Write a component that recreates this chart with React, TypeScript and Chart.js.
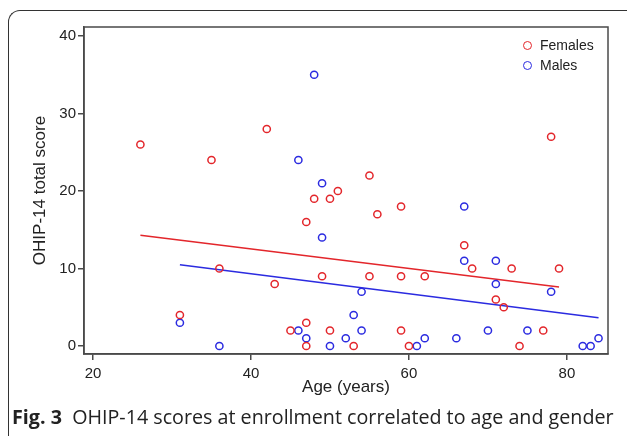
import React, { useEffect, useRef } from "react";
import { Chart, registerables } from "chart.js";

Chart.register(...registerables);

// ---- data ----
const seriesNames = ["Females", "Males"];
const seriesColors = ["#e3262b", "#2b2be0"];

const femaleAge = [26, 35, 42, 31, 36, 43, 45, 47, 47, 47, 48, 50, 51, 49, 50, 53, 55, 56, 55, 59, 59, 59, 60, 62, 67, 68, 71, 72, 73, 74, 77, 78, 79];
const femaleScore = [26, 24, 28, 4, 10, 8, 2, 3, 0, 16, 19, 19, 20, 9, 2, 0, 22, 17, 9, 18, 9, 2, 0, 9, 13, 10, 6, 5, 10, 0, 2, 27, 10];

const maleAge = [31, 36, 46, 48, 49, 49, 54, 53, 46, 54, 47, 52, 50, 61, 62, 66, 67, 67, 71, 71, 78, 70, 75, 82, 83, 84];
const maleScore = [3, 0, 24, 35, 21, 14, 7, 4, 2, 2, 1, 1, 0, 0, 1, 1, 18, 11, 11, 8, 7, 2, 2, 0, 0, 1];

// fitted regression lines (end points)
const femaleFitAge = [26, 79];
const femaleFitScore = [14.3, 7.6];
const maleFitAge = [31, 84];
const maleFitScore = [10.5, 3.65];

const xTicks = [20, 40, 60, 80];
const yTicks = [0, 10, 20, 30, 40];
const xRange = [18.86, 85.2];
const yRange = [-1.03, 41.16];

const xTitle = "Age (years)";
const yTitle = "OHIP-14 total score";
const captionBold = "Fig. 3";
const captionText = "OHIP-14 scores at enrollment correlated to age and gender";

const zip = (xs: number[], ys: number[]) => xs.map((x, i) => ({ x, y: ys[i] }));

const frameColor = "#4a4a4a";

const framePlugin = {
  id: "frame",
  afterDraw(chart: any) {
    const { ctx, chartArea } = chart;
    ctx.save();
    ctx.strokeStyle = frameColor;
    ctx.lineWidth = 1.5;
    ctx.strokeRect(chartArea.left, chartArea.top, chartArea.right - chartArea.left, chartArea.bottom - chartArea.top);
    ctx.restore();
  },
};

const sansFont = "Liberation Sans, Arial, Helvetica, sans-serif";

export default function App() {
  const ref = useRef<HTMLCanvasElement | null>(null);

  useEffect(() => {
    if (!ref.current) return;
    const font = sansFont;
    const chart = new Chart(ref.current, {
      type: "scatter",
      data: {
        datasets: [
          {
            label: seriesNames[0],
            data: zip(femaleAge, femaleScore),
            borderColor: seriesColors[0],
            backgroundColor: "transparent",
            pointRadius: 3.6,
            pointBorderWidth: 1.5,
            order: 1,
          },
          {
            label: seriesNames[1],
            data: zip(maleAge, maleScore),
            borderColor: seriesColors[1],
            backgroundColor: "transparent",
            pointRadius: 3.6,
            pointBorderWidth: 1.5,
            order: 1,
          },
          {
            label: seriesNames[0] + " fit",
            data: zip(femaleFitAge, femaleFitScore),
            showLine: true,
            borderColor: seriesColors[0],
            borderWidth: 1.5,
            pointRadius: 0,
            order: 2,
          },
          {
            label: seriesNames[1] + " fit",
            data: zip(maleFitAge, maleFitScore),
            showLine: true,
            borderColor: seriesColors[1],
            borderWidth: 1.5,
            pointRadius: 0,
            order: 2,
          },
        ],
      },
      options: {
        responsive: false,
        animation: false,
        devicePixelRatio: 1,
        layout: { padding: { left: 0, top: 27, right: 19, bottom: 0 } },
        plugins: { legend: { display: false }, tooltip: { enabled: false } },
        scales: {
          x: {
            type: "linear",
            min: xRange[0],
            max: xRange[1],
            afterBuildTicks: (s: any) => {
              s.ticks = xTicks.map((v) => ({ value: v }));
            },
            afterFit: (s: any) => {
              s.height = 82;
            },
            grid: { drawOnChartArea: false, drawTicks: true, tickLength: 6, color: frameColor, lineWidth: 1.5 },
            border: { display: true, color: frameColor, width: 1.5 },
            ticks: { color: "#222", font: { family: font, size: 15 }, padding: 5, autoSkip: false, maxRotation: 0 },
            title: { display: true, text: xTitle, color: "#222", font: { family: font, size: 17 }, padding: { top: 0, bottom: 38 } },
          },
          y: {
            type: "linear",
            min: yRange[0],
            max: yRange[1],
            afterBuildTicks: (s: any) => {
              s.ticks = yTicks.map((v) => ({ value: v }));
            },
            afterFit: (s: any) => {
              s.width = 84;
            },
            grid: { drawOnChartArea: false, drawTicks: true, tickLength: 6, color: frameColor, lineWidth: 1.5 },
            border: { display: true, color: frameColor, width: 1.5 },
            ticks: { color: "#222", font: { family: font, size: 15 }, padding: 2, autoSkip: false },
            title: { display: true, text: yTitle, color: "#222", font: { family: font, size: 17 }, padding: { top: 30, bottom: 0 } },
          },
        },
      },
      plugins: [framePlugin],
    } as any);
    return () => chart.destroy();
  }, []);

  return (
    <div style={{ position: "absolute", left: 0, top: 0, width: 627, height: 436, overflow: "hidden", background: "#fff" }}>
      <div
        style={{
          position: "absolute",
          left: 8,
          top: 10,
          width: 700,
          height: 500,
          borderTop: "1.5px solid #333",
          borderLeft: "1.5px solid #333",
          borderTopLeftRadius: 12,
          boxSizing: "border-box",
        }}
      />
      <canvas ref={ref} width={627} height={436} style={{ position: "absolute", left: 0, top: 0, width: 627, height: 436 }} />
      {seriesNames.map((name, i) => (
        <div
          key={name}
          style={{
            position: "absolute",
            left: 523,
            top: 36 + i * 20,
            height: 18,
            display: "flex",
            alignItems: "center",
            fontFamily: sansFont,
            fontSize: 14,
            color: "#222",
            whiteSpace: "nowrap",
          }}
        >
          <span
            style={{
              display: "inline-block",
              width: 7,
              height: 7,
              borderRadius: "50%",
              border: `1.5px solid ${seriesColors[i]}`,
              marginRight: 8,
              boxSizing: "content-box",
            }}
          />
          <span>{name}</span>
        </div>
      ))}
      <div
        style={{
          position: "absolute",
          left: 12,
          top: 405,
          fontFamily: "'Open Sans', sans-serif",
          fontSize: 19.7,
          lineHeight: "24px",
          color: "#222",
          whiteSpace: "nowrap",
        }}
      >
        <b>{captionBold}</b>&nbsp; {captionText}
      </div>
    </div>
  );
}
